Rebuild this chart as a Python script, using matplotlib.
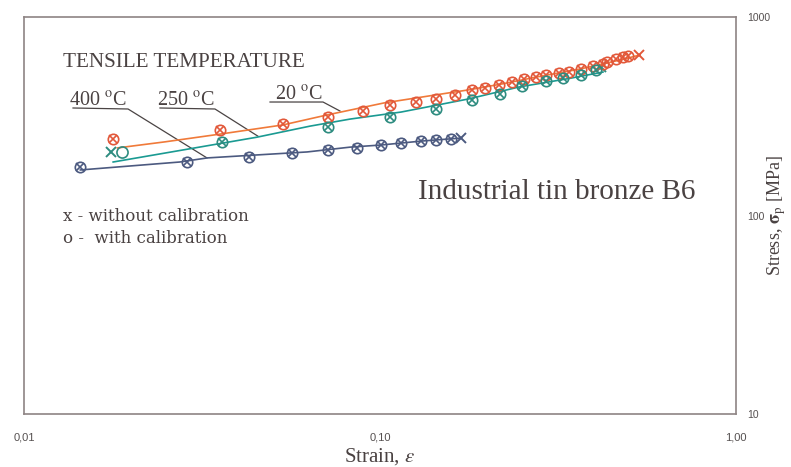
import matplotlib.pyplot as plt

plt.rcParams["font.family"] = ["Liberation Serif", "DejaVu Serif"]
plt.rcParams["mathtext.fontset"] = "stix"

TEXT_COLOR = "#4a4242"
FRAME_COLOR = "#8e8484"
C20 = "#e2583a"
C20_LINE = "#f07a3a"
C250 = "#2e8c80"
C250_LINE = "#1a9a92"
C400 = "#4c5a80"

# 20 C - markers (x and o together), last point only x
eps_20 = [0.0178, 0.0355, 0.0534, 0.0714, 0.0896, 0.107, 0.126, 0.144, 0.162, 0.181,
          0.197, 0.216, 0.235, 0.254, 0.274, 0.293, 0.318, 0.340, 0.367, 0.397,
          0.423, 0.434, 0.459, 0.481, 0.497]
sig_20 = [243, 270, 289, 313, 336, 360, 373, 386, 405, 429,
          439, 455, 471, 487, 498, 510, 522, 528, 547, 567,
          580, 593, 614, 629, 636]
eps_20_end = [0.534]
sig_20_end = [644]
eps_20_line = [0.0183, 0.0249, 0.0355, 0.0534, 0.0710, 0.1026, 0.1484, 0.1767, 0.2201,
               0.2743, 0.3646, 0.4723, 0.5375]
sig_20_line = [219, 235, 257, 286, 321, 369, 409, 429, 460, 498, 547, 607, 644]

# 250 C
eps_250 = [0.036, 0.0714, 0.107, 0.144, 0.181, 0.217, 0.250, 0.293, 0.327, 0.367, 0.404]
sig_250 = [235, 279, 313, 344, 382, 409, 449, 476, 493, 510, 541]
eps_250_x = [0.0175, 0.418]
sig_250_x = [209, 560]
eps_250_o = [0.0188]
sig_250_o = [209]
eps_250_line = [0.0178, 0.0451, 0.0636, 0.0824, 0.1146, 0.1767, 0.2457, 0.3395, 0.423]
sig_250_line = [186, 248, 282, 306, 332, 386, 444, 490, 528]

# 400 C
eps_400 = [0.0144, 0.0287, 0.0429, 0.0566, 0.0714, 0.0862, 0.1006, 0.1146, 0.1304,
           0.1437, 0.158]
sig_400 = [175.5, 186, 197, 206, 214, 219, 226.5, 232, 237, 240, 243]
eps_400_end = [0.169]
sig_400_end = [246]
eps_400_line = [0.0144, 0.0274, 0.0327, 0.0404, 0.0624, 0.0824, 0.1006, 0.1304, 0.1689]
sig_400_line = [169.6, 186, 195, 199.5, 209, 221, 226.5, 237, 245.6]

# leader lines: underline start, underline end, point on curve
leaders = {
    "400": ([0.01373, 0.01960, 0.03266], [348, 344, 195]),
    "250": ([0.0241, 0.03439, 0.0454], [348, 344, 251]),
    "20": ([0.0491, 0.06917, 0.0772], [373, 373, 336]),
}
leader_labels = {"400": (0.01340, 338), "250": (0.0236, 338), "20": (0.0508, 362)}

x_ticks = [0.01, 0.1, 1.0]
x_tick_labels = ["0,01", "0,10", "1,00"]
y_ticks = [10, 100, 1000]
y_tick_labels = ["10", "100", "1000"]


def draw_markers(ax, x, y, color):
    ax.plot(x, y, "o", ms=7.5, mfc="none", mec=color, mew=1.2, zorder=3)
    ax.plot(x, y, "x", ms=5.5, mec=color, mew=1.2, zorder=3)


fig = plt.figure(figsize=(7.91, 4.67), dpi=100)
ax = fig.add_axes([24 / 791, 53 / 467, 712 / 791, 397 / 467])
ax.set_xscale("log")
ax.set_yscale("log")
ax.set_xlim(0.01, 1.0)
ax.set_ylim(10, 1000)

ax.plot(eps_20_line, sig_20_line, color=C20_LINE, lw=1.2, zorder=2)
ax.plot(eps_250_line, sig_250_line, color=C250_LINE, lw=1.2, zorder=2)
ax.plot(eps_400_line, sig_400_line, color=C400, lw=1.2, zorder=2)

draw_markers(ax, eps_20, sig_20, C20)
ax.plot(eps_20_end, sig_20_end, "x", ms=7, mec=C20, mew=1.4)
draw_markers(ax, eps_250, sig_250, C250)
ax.plot(eps_250_x, sig_250_x, "x", ms=7, mec=C250, mew=1.4)
ax.plot(eps_250_o, sig_250_o, "o", ms=8, mfc="none", mec=C250, mew=1.2)
draw_markers(ax, eps_400, sig_400, C400)
ax.plot(eps_400_end, sig_400_end, "x", ms=7, mec=C400, mew=1.4)

for key, (lx, ly) in leaders.items():
    ax.plot(lx, ly, color="#4a4444", lw=0.9, zorder=1)
    tx, ty = leader_labels[key]
    ax.text(tx, ty, key + r" $^{\mathrm{o}}$C", fontsize=14.5, color=TEXT_COLOR,
            ha="left", va="bottom")

ax.text(0.0548, 0.8866, "TENSILE TEMPERATURE", transform=ax.transAxes, fontsize=15.2,
        color=TEXT_COLOR, ha="left", va="center")
ax.text(0.553, 0.559, "Industrial tin bronze B6", transform=ax.transAxes, fontsize=21,
        color=TEXT_COLOR, ha="left", va="center")
ax.text(0.0548, 0.4987, "x - without calibration", transform=ax.transAxes, fontsize=12,
        family="DejaVu Serif", color=TEXT_COLOR, ha="left", va="center")
ax.text(0.0548, 0.4433, "o -  with calibration", transform=ax.transAxes, fontsize=12,
        family="DejaVu Serif", color=TEXT_COLOR, ha="left", va="center")

ax.set_xticks(x_ticks)
ax.set_xticklabels(x_tick_labels)
ax.set_yticks(y_ticks)
ax.set_yticklabels(y_tick_labels)
ax.minorticks_off()
ax.yaxis.tick_right()
ax.yaxis.set_label_position("right")
ax.tick_params(axis="x", length=0, pad=13, labelsize=8, labelcolor="#555050")
ax.tick_params(axis="y", length=0, pad=8, labelsize=7.5, labelcolor="#555050")
for lab in ax.get_xticklabels() + ax.get_yticklabels():
    lab.set_family("Liberation Sans")

ax.set_xlabel(r"Strain, $\varepsilon$", fontsize=15, color=TEXT_COLOR, labelpad=3)
ax.set_ylabel(r"Stress, $\mathbf{\sigma}_{\mathrm{p}}$ [MPa]", fontsize=13,
              color=TEXT_COLOR)
ax.yaxis.set_label_coords(1.057, 0.5)
ax.yaxis.label.set_va("center")

for side in ax.spines.values():
    side.set_color(FRAME_COLOR)
    side.set_linewidth(1.2)

fig.savefig("out.png", dpi=100)
